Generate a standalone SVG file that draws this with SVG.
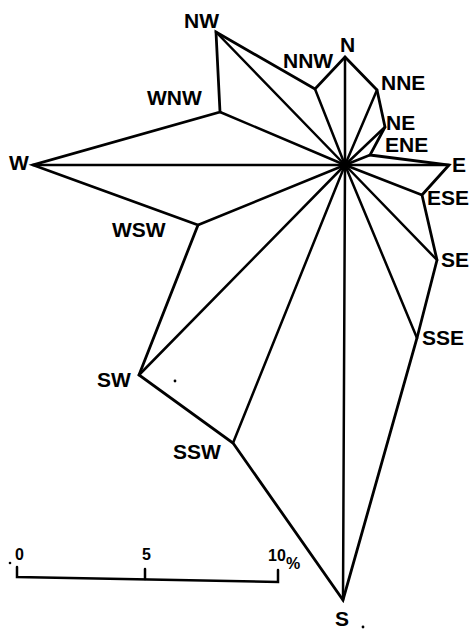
<svg xmlns="http://www.w3.org/2000/svg" width="470" height="630" viewBox="0 0 470 630">
<style>
.l{stroke:#000;stroke-width:2.8;fill:none;stroke-linejoin:miter;stroke-linecap:round}
.s{stroke:#000;stroke-width:2.5;fill:none;stroke-linecap:round}
text{font-family:"Liberation Sans",Arial,sans-serif;font-size:21px;font-weight:bold;fill:#000}
.n{font-size:16px}
</style>
<rect width="470" height="630" fill="#fff"/>
<g id="connectors">
<polygon class="l" points="345,57 377,90 385,127 370,155 449,165 422,195 437,260 417,338 343,600 233,443 139,375 198,225 33,165 220,112 216,32 315,89"/>
<g class="s">
<line x1="345" y1="165" x2="345" y2="57"/>
<line x1="345" y1="165" x2="377" y2="90"/>
<line x1="345" y1="165" x2="385" y2="127"/>
<line x1="345" y1="165" x2="370" y2="155"/>
<line x1="345" y1="165" x2="449" y2="165"/>
<line x1="345" y1="165" x2="422" y2="195"/>
<line x1="345" y1="165" x2="437" y2="260"/>
<line x1="345" y1="165" x2="417" y2="338"/>
<line x1="345" y1="165" x2="343" y2="600"/>
<line x1="345" y1="165" x2="233" y2="443"/>
<line x1="345" y1="165" x2="139" y2="375"/>
<line x1="345" y1="165" x2="198" y2="225"/>
<line x1="345" y1="165" x2="33" y2="165"/>
<line x1="345" y1="165" x2="220" y2="112"/>
<line x1="345" y1="165" x2="216" y2="32"/>
<line x1="345" y1="165" x2="315" y2="89"/>
</g>
</g>
<g id="labels">
<text x="184" y="28">NW</text>
<text x="283" y="68">NNW</text>
<text x="340" y="52">N</text>
<text x="381" y="90">NNE</text>
<text x="386" y="130">NE</text>
<text x="385" y="152">ENE</text>
<text x="452" y="172">E</text>
<text x="427" y="205">ESE</text>
<text x="441" y="267">SE</text>
<text x="422" y="345">SSE</text>
<text x="335" y="626">S</text>
<text x="173" y="459">SSW</text>
<text x="97" y="387">SW</text>
<text x="112" y="237">WSW</text>
<text x="147" y="105">WNW</text>
<text x="9" y="170">W</text>
</g>
<g id="scale">
<polyline class="s" points="17,567 17,577 278,582 278,570"/>
<line class="s" x1="145" y1="569" x2="145" y2="579"/>
<text class="n" x="15" y="560">0</text>
<text class="n" x="142" y="560">5</text>
<text class="n" x="268" y="561">10</text>
<text x="286" y="569" style="font-size:16px">%</text>
<circle cx="10" cy="563" r="1.3"/>
</g>
<circle cx="175" cy="381" r="1.4"/>
<circle cx="363" cy="627" r="1.4"/>
</svg>
